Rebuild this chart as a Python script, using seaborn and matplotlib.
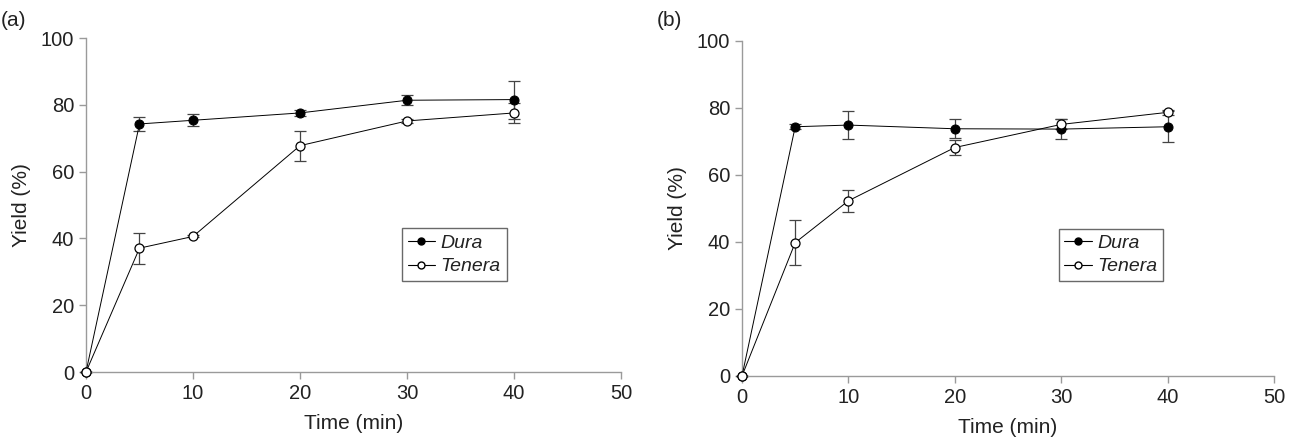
import matplotlib
matplotlib.use("Agg")
import matplotlib.pyplot as plt
import seaborn as sns
import pandas as pd
from matplotlib.lines import Line2D

time = [0, 5, 10, 20, 30, 40]

# panel (a)
a_dura = [0, 74.3, 75.4, 77.6, 81.4, 81.6]
a_dura_err = [0, 2.2, 1.8, 0.8, 1.5, 5.7]
a_tenera = [0, 37.1, 40.6, 67.8, 75.2, 77.6]
a_tenera_err = [0, 4.6, 0.3, 4.5, 0.5, 3.1]

# panel (b)
b_dura = [0, 74.4, 74.9, 73.8, 73.7, 74.4]
b_dura_err = [0, 0.8, 4.2, 2.9, 3.1, 4.6]
b_tenera = [0, 39.8, 52.3, 68.2, 75.1, 78.7]
b_tenera_err = [0, 6.8, 3.3, 2.2, 1.5, 0.8]

sns.set_style("ticks")
plt.rcParams['font.family'] = ['Liberation Sans', 'DejaVu Sans']

fig = plt.figure(figsize=(12.99, 4.37), dpi=100)
ax_a = fig.add_axes([0.0662, 0.1487, 0.4119, 0.764])
ax_b = fig.add_axes([0.5712, 0.1396, 0.4096, 0.7666])

spine_col = '#9a9a9a'
text_col = '#222222'


def draw_panel(ax, dura, dura_err, tenera, tenera_err, label, leg_anchor):
    df = pd.DataFrame({'Time': time * 2,
                       'Yield': dura + tenera,
                       'Type': ['Dura'] * len(time) + ['Tenera'] * len(time)})
    for vals, errs in [(dura, dura_err), (tenera, tenera_err)]:
        ax.errorbar(time, vals, yerr=errs, fmt='none', ecolor='#444444',
                    elinewidth=0.9, capsize=4, capthick=0.9, zorder=2, clip_on=False)
    sns.lineplot(data=df[df.Type == 'Dura'], x='Time', y='Yield', ax=ax,
                 color='black', lw=0.7, marker='o', markersize=6.5,
                 markerfacecolor='black', markeredgecolor='black',
                 zorder=3, clip_on=False, legend=False)
    sns.lineplot(data=df[df.Type == 'Tenera'], x='Time', y='Yield', ax=ax,
                 color='black', lw=0.7, marker='o', markersize=6.5,
                 markerfacecolor='white', markeredgecolor='black',
                 markeredgewidth=0.9, zorder=4, clip_on=False, legend=False)
    ax.set_xlim(0, 50)
    ax.set_ylim(0, 100)
    ax.set_xticks([0, 10, 20, 30, 40, 50])
    ax.set_yticks([0, 20, 40, 60, 80, 100])
    sns.despine(ax=ax)
    for s in ['left', 'bottom']:
        ax.spines[s].set_color(spine_col)
        ax.spines[s].set_linewidth(1.0)
    ax.tick_params(colors=spine_col, labelcolor=text_col, labelsize=14.5,
                   length=5, width=1.0, direction='out')
    ax.set_xlabel('Time (min)', fontsize=15, color=text_col, labelpad=8)
    ax.set_ylabel('Yield (%)', fontsize=15, color=text_col, labelpad=7)
    handles = [Line2D([], [], color='black', lw=0.8, marker='o', markersize=5,
                      markerfacecolor='black', markeredgecolor='black'),
               Line2D([], [], color='black', lw=0.8, marker='o', markersize=5,
                      markerfacecolor='white', markeredgecolor='black')]
    leg = ax.legend(handles, ['Dura', 'Tenera'], loc='upper left',
                    bbox_to_anchor=leg_anchor, frameon=True, fancybox=False,
                    prop={'style': 'italic', 'size': 14}, handlelength=1.4,
                    handletextpad=0.3, borderpad=0.3, labelspacing=0.3,
                    borderaxespad=0)
    leg.get_frame().set_edgecolor('#444444')
    leg.get_frame().set_linewidth(1.0)
    for t in leg.get_texts():
        t.set_color(text_col)
    fig.text(ax.get_position().x0 - 0.066, 0.975, label, fontsize=15,
             color=text_col, va='top', ha='left')


draw_panel(ax_a, a_dura, a_dura_err, a_tenera, a_tenera_err, '(a)', (0.59, 0.43))
draw_panel(ax_b, b_dura, b_dura_err, b_tenera, b_tenera_err, '(b)', (0.595, 0.44))

fig.savefig('out.png', dpi=100)
